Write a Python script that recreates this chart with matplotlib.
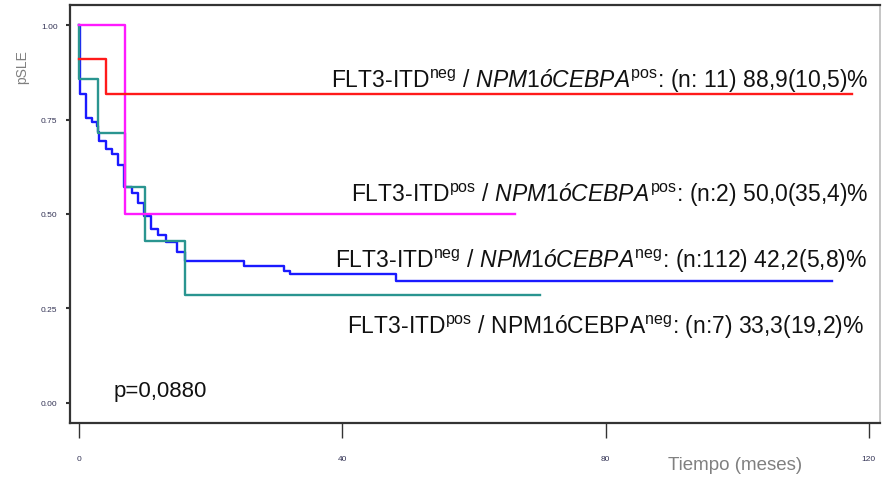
import matplotlib
matplotlib.use("Agg")
import matplotlib.pyplot as plt

plt.rcParams['font.family'] = ['Liberation Sans', 'DejaVu Sans']
plt.rcParams['mathtext.fontset'] = 'custom'
plt.rcParams['mathtext.rm'] = 'Liberation Sans'
plt.rcParams['mathtext.it'] = 'Liberation Sans:italic'

# Kaplan-Meier steps (time in months, survival)
blue_t = [0, 0.1, 1.06, 1.9, 2.8, 2.9, 3.0, 4.05, 5.07, 5.98, 6.9, 8.0, 9.0,
          9.9, 11.0, 12.05, 13.2, 14.9, 16.1, 25.1, 31.2, 32.1, 48.2, 114.4]
blue_s = [1.0, 0.817, 0.753, 0.744, 0.734, 0.716, 0.694, 0.672, 0.659, 0.630,
          0.571, 0.556, 0.528, 0.495, 0.460, 0.444, 0.425, 0.399, 0.376,
          0.362, 0.349, 0.341, 0.323, 0.323]
teal_t = [0, 0.05, 2.9, 7.0, 10.0, 16.1, 70.1]
teal_s = [1.0, 0.857, 0.714, 0.571, 0.429, 0.286, 0.286]
pink_t = [0, 7.0, 66.3]
pink_s = [1.0, 0.5, 0.5]
red_t = [0, 4.05, 117.5]
red_s = [0.909, 0.818, 0.818]

labels = [
    r"FLT3-ITD$^{\mathrm{neg}}$ / $\mathit{NPM1óCEBPA}^{\mathrm{pos}}$: (n: 11) 88,9(10,5)%",
    r"FLT3-ITD$^{\mathrm{pos}}$ / $\mathit{NPM1óCEBPA}^{\mathrm{pos}}$: (n:2) 50,0(35,4)%",
    r"FLT3-ITD$^{\mathrm{neg}}$ / $\mathit{NPM1óCEBPA}^{\mathrm{neg}}$: (n:112) 42,2(5,8)%",
    r"FLT3-ITD$^{\mathrm{pos}}$ / NPM1óCEBPA$^{\mathrm{neg}}$: (n:7) 33,3(19,2)%",
]
label_x = [120, 120, 119.7, 119.3]
label_y = [0.836, 0.534, 0.360, 0.185]

fig = plt.figure(figsize=(8.83, 4.81), dpi=100)
ax = fig.add_axes([70 / 883, 1 - 424 / 481, 810 / 883, 418 / 481])

ax.step(blue_t, blue_s, where='post', color='#1a1aff', lw=1.7)
ax.step(teal_t, teal_s, where='post', color='#2a9590', lw=1.7)
ax.step(pink_t, pink_s, where='post', color='#ff1aff', lw=1.7)
ax.step(red_t, red_s, where='post', color='#ff1a1a', lw=1.7)

for txt, x, y in zip(labels, label_x, label_y):
    ax.text(x, y, txt, ha='right', va='baseline', fontsize=16.5, color='#111111')

ax.text(5.2, 0.018, "p=0,0880", fontsize=16, color='#111111', va='baseline')

ax.set_xlim(-1.37, 121.7)
ax.set_ylim(-0.053, 1.053)
ax.set_xticks([0, 40, 80, 120])
ax.set_yticks([0, 0.25, 0.5, 0.75, 1.0])
ax.set_yticklabels(['0.00', '0.25', '0.50', '0.75', '1.00'])
ax.tick_params(axis='x', length=11, width=1, pad=12, labelsize=6,
               labelcolor='#333355', color='#333333')
ax.tick_params(axis='y', length=3, width=1.5, pad=6, labelsize=6,
               labelcolor='#333355', color='#333333')

for side in ['left', 'bottom', 'top']:
    ax.spines[side].set_color('#333333')
    ax.spines[side].set_linewidth(1.6)
ax.spines['right'].set_color('#bbbbbb')
ax.spines['right'].set_linewidth(1.2)

fig.text(22 / 883, 1 - 67 / 481, "pSLE", rotation=90, ha='center', va='center',
         fontsize=10, color='#808080')
fig.text(735 / 883, 1 - 466 / 481, "Tiempo (meses)", ha='center', va='center',
         fontsize=13.5, color='#808080')

fig.savefig("out.png", dpi=100)
